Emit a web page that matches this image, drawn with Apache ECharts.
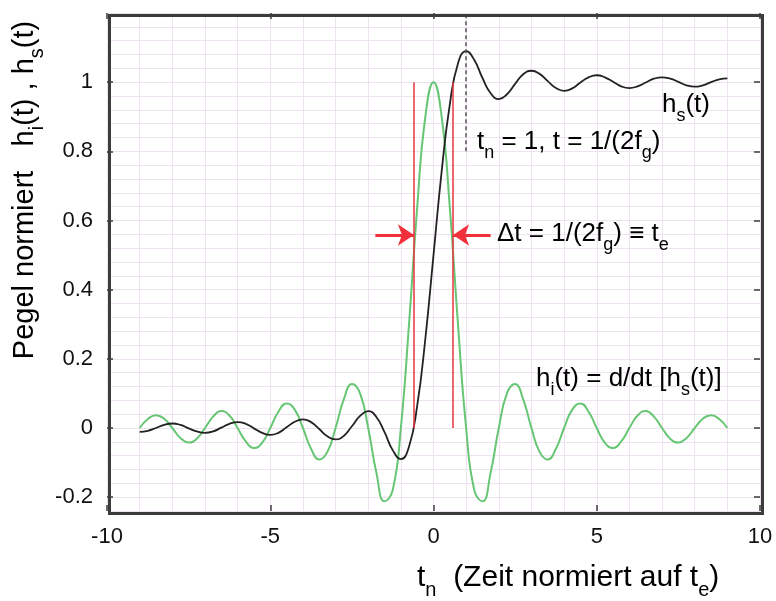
<!DOCTYPE html>
<html>
<head>
<meta charset="utf-8">
<script src="https://cdn.jsdelivr.net/npm/echarts@6/dist/echarts.min.js"></script>
<style>
html, body { margin: 0; padding: 0; background: #fff; }
#chart { width: 776px; height: 601px; }
</style>
</head>
<body>
<div id="chart"></div>
<script>
// normalised time t_n, sampled every 0.25
var tValues = [-9, -8.75, -8.5, -8.25, -8, -7.75, -7.5, -7.25, -7, -6.75, -6.5, -6.25,
    -6, -5.75, -5.5, -5.25, -5, -4.75, -4.5, -4.25, -4, -3.75, -3.5, -3.25,
    -3, -2.75, -2.5, -2.25, -2, -1.75, -1.5, -1.25, -1, -0.75, -0.5, -0.25,
    0, 0.25, 0.5, 0.75, 1, 1.25, 1.5, 1.75, 2, 2.25, 2.5, 2.75,
    3, 3.25, 3.5, 3.75, 4, 4.25, 4.5, 4.75, 5, 5.25, 5.5, 5.75,
    6, 6.25, 6.5, 6.75, 7, 7.25, 7.5, 7.75, 8, 8.25, 8.5, 8.75, 9];

// h_i(t) - green curve
var impulseValues = [0, 0.026, 0.037, 0.027, 0, -0.029, -0.042, -0.031, 0, 0.033, 0.049, 0.036,
    0, -0.039, -0.058, -0.043, 0, 0.047, 0.071, 0.053, 0, -0.060, -0.091, -0.069,
    0, 0.082, 0.127, 0.100, 0, -0.129, -0.212, -0.180, 0, 0.300, 0.637, 0.900,
    1, 0.900, 0.637, 0.300, 0, -0.180, -0.212, -0.129, 0, 0.100, 0.127, 0.082,
    0, -0.069, -0.091, -0.060, 0, 0.053, 0.071, 0.047, 0, -0.043, -0.058, -0.039,
    0, 0.036, 0.049, 0.033, 0, -0.031, -0.042, -0.029, 0, 0.027, 0.037, 0.026, 0];

// h_s(t) - black curve
var stepValues = [-0.011, -0.008, 0.000, 0.009, 0.013, 0.009, -0.001, -0.010, -0.014, -0.010, 0.001, 0.012,
    0.017, 0.012, -0.001, -0.014, -0.020, -0.014, 0.002, 0.018, 0.025, 0.017, -0.003, -0.024,
    -0.033, -0.023, 0.005, 0.035, 0.049, 0.032, -0.012, -0.064, -0.090, -0.054, 0.064, 0.258,
    0.500, 0.742, 0.936, 1.054, 1.090, 1.064, 1.012, 0.968, 0.951, 0.965, 0.995, 1.023,
    1.033, 1.024, 1.003, 0.983, 0.975, 0.982, 0.999, 1.014, 1.020, 1.014, 1.001, 0.988,
    0.983, 0.988, 0.999, 1.010, 1.014, 1.010, 1.001, 0.991, 0.987, 0.991, 1.000, 1.008, 1.011];

var yTickValues = [-0.2, 0, 0.2, 0.4, 0.6, 0.8, 1];

// red half-width markers and arrows
var markerT = [-0.6, 0.6];
var markerRange = [0, 1];
var arrowLevel = 0.558;
var arrowStartT = [-1.78, 1.75];

// dashed line at the overshoot peak
var peakT = 1;
var peakRange = [0.8, 1.2];

var font = 'Liberation Sans, Arial, Helvetica, sans-serif';
var gridColor = '#eee1f0';
var frameColor = '#3c3c3c';
var greenLine = '#66c673';
var greenText = '#1a9a40';
var red = '#f2303c';

function pairs(xs, ys) {
    return xs.map(function (x, i) { return [x, ys[i]]; });
}

function richSet(size, color) {
    return {
        m: { fontSize: size, lineHeight: size + 4, verticalAlign: 'top', color: color, fontFamily: font },
        s: { fontSize: Math.round(size * 0.68), lineHeight: Math.round(size * 0.68),
             padding: [Math.round(size * 0.58), 0, 0, 0], verticalAlign: 'top', color: color, fontFamily: font }
    };
}

var yTitleRich = richSet(29, '#111');
var greenRich = richSet(29, greenText);
yTitleRich.g = greenRich.m;
yTitleRich.gs = greenRich.s;

var chart = echarts.init(document.getElementById('chart'));

var tickStyle = { show: true, inside: true, length: 6, lineStyle: { color: frameColor, width: 1.5 } };
var noLine = { show: false, onZero: false };

var option = {
    animation: false,
    backgroundColor: '#ffffff',
    grid: { left: 107, right: 16, top: 13, bottom: 90 },
    xAxis: [
        {
            type: 'value', position: 'bottom', min: -10, max: 10, interval: 5,
            axisLine: noLine,
            axisTick: tickStyle,
            axisLabel: { fontSize: 22, color: '#111', margin: 15, fontFamily: font },
            splitLine: { show: true, lineStyle: { color: gridColor, width: 1 } },
            minorTick: { show: false, splitNumber: 5 },
            minorSplitLine: { show: true, lineStyle: { color: gridColor, width: 1 } }
        },
        {
            type: 'value', position: 'top', min: -10, max: 10, interval: 5,
            axisLine: noLine,
            axisTick: tickStyle,
            axisLabel: { show: false },
            splitLine: { show: false }
        }
    ],
    yAxis: [
        {
            type: 'value', position: 'left', min: -0.24, max: 1.2, interval: 0.04,
            axisLine: noLine,
            axisTick: { show: false },
            axisLabel: { show: false },
            splitLine: { show: true, lineStyle: { color: gridColor, width: 1 } }
        },
        {
            type: 'value', position: 'left', min: -0.24, max: 1.2, interval: 0.04,
            axisLine: noLine,
            axisTick: Object.assign({ customValues: yTickValues }, tickStyle),
            axisLabel: { customValues: yTickValues, fontSize: 22, color: '#111', margin: 14, fontFamily: font },
            splitLine: { show: false }
        },
        {
            type: 'value', position: 'right', min: -0.24, max: 1.2, interval: 0.04,
            axisLine: noLine,
            axisTick: Object.assign({ customValues: yTickValues }, tickStyle),
            axisLabel: { show: false },
            splitLine: { show: false }
        }
    ],
    series: [
        {
            name: 'h_i(t)',
            type: 'line',
            smooth: true,
            showSymbol: false,
            data: pairs(tValues, impulseValues),
            lineStyle: { color: greenLine, width: 2 },
            z: 2
        },
        {
            name: 'h_s(t)',
            type: 'line',
            smooth: true,
            showSymbol: false,
            data: pairs(tValues, stepValues),
            lineStyle: { color: '#222222', width: 1.8 },
            z: 3
        },
        {
            type: 'lines',
            coordinateSystem: 'cartesian2d',
            symbol: 'none',
            lineStyle: { color: '#e8343f', width: 1.5, opacity: 1 },
            data: markerT.map(function (t) {
                return { coords: [[t, markerRange[0]], [t, markerRange[1]]] };
            }),
            z: 4
        },
        {
            type: 'lines',
            coordinateSystem: 'cartesian2d',
            symbol: ['none', 'arrow'],
            symbolSize: 16,
            lineStyle: { color: red, width: 3, opacity: 1 },
            data: arrowStartT.map(function (t, i) {
                return { coords: [[t, arrowLevel], [markerT[i], arrowLevel]] };
            }),
            z: 5
        },
        {
            type: 'lines',
            coordinateSystem: 'cartesian2d',
            symbol: 'none',
            lineStyle: { color: '#555555', width: 1.5, type: [4, 3], opacity: 1 },
            data: [{ coords: [[peakT, peakRange[0]], [peakT, peakRange[1]]] }],
            z: 4
        }
    ],
    graphic: [
        {
            type: 'rect', left: 107, top: 13, z: 100, silent: true,
            shape: { width: 653, height: 498 },
            style: { fill: 'none', stroke: frameColor, lineWidth: 3 }
        },
        {
            type: 'text', x: 27, y: 190, rotation: Math.PI / 2, z: 100,
            style: {
                text: '{m|Pegel normiert   }{g|h}{gs|i}{g|(t)}{m| , h}{s|s}{m|(t)}',
                rich: yTitleRich, align: 'center', verticalAlign: 'middle'
            }
        },
        {
            type: 'text', x: 417, y: 580, z: 100,
            style: {
                text: '{m|t}{s|n}{m|  (Zeit normiert auf t}{s|e}{m|)}',
                rich: richSet(30, '#111'), align: 'left', verticalAlign: 'middle'
            }
        },
        {
            type: 'text', x: 662, y: 107, z: 100,
            style: { text: '{m|h}{s|s}{m|(t)}', rich: richSet(26, '#111'), align: 'left', verticalAlign: 'middle' }
        },
        {
            type: 'text', x: 477, y: 144, z: 100,
            style: { text: '{m|t}{s|n}{m| = 1, t = 1/(2f}{s|g}{m|)}', rich: richSet(26, '#111'), align: 'left', verticalAlign: 'middle' }
        },
        {
            type: 'text', x: 497, y: 236, z: 100,
            style: { text: '{m|\u0394t = 1/(2f}{s|g}{m|) \u2261 t}{s|e}', rich: richSet(26, red), align: 'left', verticalAlign: 'middle' }
        },
        {
            type: 'text', x: 536, y: 381, z: 100,
            style: { text: '{m|h}{s|i}{m|(t) = d/dt [h}{s|s}{m|(t)]}', rich: richSet(26, greenText), align: 'left', verticalAlign: 'middle' }
        }
    ]
};

chart.setOption(option);
</script>
</body>
</html>
